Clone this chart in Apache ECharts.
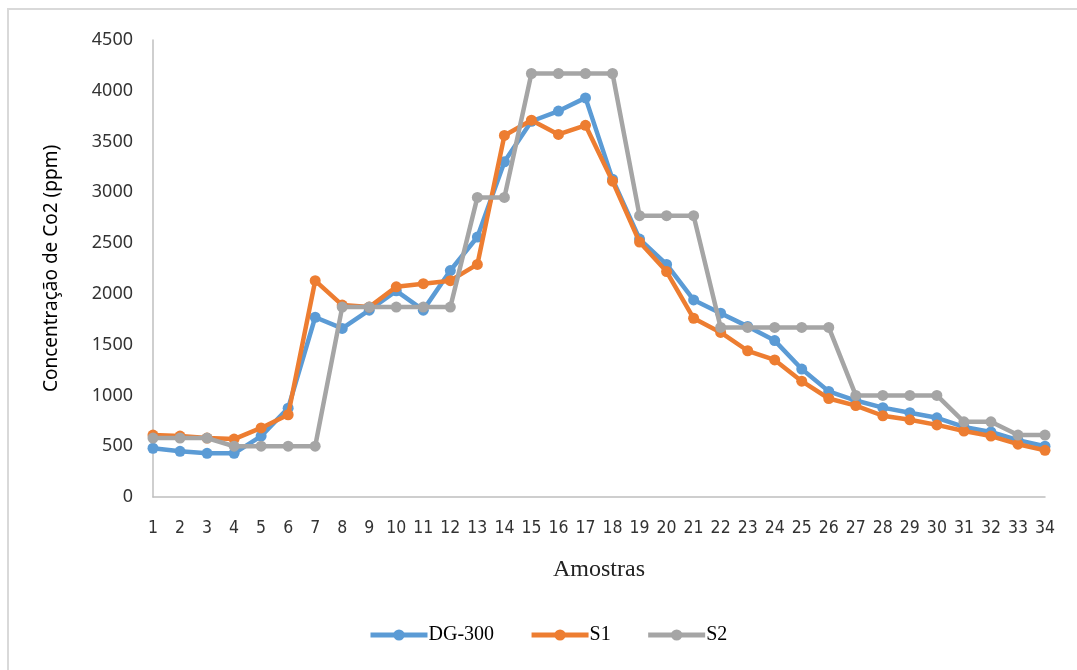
<!DOCTYPE html>
<html>
<head>
<meta charset="utf-8">
<script src="https://cdn.jsdelivr.net/npm/echarts@6/dist/echarts.min.js"></script>
<style>html,body{margin:0;padding:0;background:#fff}#c{width:1077px;height:670px}</style>
</head>
<body>
<div id="c"></div>
<script>
const categories = ['1','2','3','4','5','6','7','8','9','10','11','12','13','14','15','16','17','18','19','20','21','22','23','24','25','26','27','28','29','30','31','32','33','34'];
const dg300 = [480,450,430,430,600,875,1770,1660,1840,2030,1840,2230,2560,3300,3700,3800,3930,3130,2540,2290,1940,1810,1680,1540,1260,1040,950,880,830,780,690,640,560,500];
const s1 = [610,600,580,570,680,810,2130,1890,1870,2070,2100,2130,2290,3560,3710,3570,3660,3110,2510,2220,1760,1620,1440,1350,1140,970,900,800,760,710,650,600,520,460];
const s2 = [580,580,580,500,500,500,500,1870,1870,1870,1870,1870,2950,2950,4170,4170,4170,4170,2770,2770,2770,1670,1670,1670,1670,1670,1000,1000,1000,1000,740,740,610,610];
const yTicks = {min:0, max:4500, interval:500};

const chart = echarts.init(document.getElementById('c'), null, {renderer:'canvas'});
const mk = (name, data, color, z) => ({
  name, type:'line', data, z,
  symbol:'circle', symbolSize:11, showSymbol:true,
  lineStyle:{color, width:4.5}, itemStyle:{color},
  emphasis:{disabled:true}, animation:false
});
chart.setOption({
  animation:false,
  backgroundColor:'#fff',
  graphic:[{type:'polyline', shape:{points:[[8,670],[8,9],[1077,9]]}, style:{stroke:'#d9d9d9', lineWidth:2, fill:null}, silent:true}],
  grid:{left:153, right:32, top:40, bottom:173, containLabel:false},
  legend:{
    bottom:20, left:363, itemGap:35, itemWidth:57, itemHeight:14,
    lineStyle:{width:5},
    textStyle:{fontFamily:'Liberation Serif, serif', fontSize:20, color:'#000', padding:[0,0,0,-4]},
    data:['DG-300','S1','S2']
  },
  xAxis:{
    type:'category', data:categories, boundaryGap:false,
    name:'Amostras', nameLocation:'middle', nameGap:61,
    nameTextStyle:{fontFamily:'Liberation Serif, serif', fontSize:24, color:'#222'},
    axisLine:{show:true, lineStyle:{color:'#bfbfbf', width:1.5}},
    axisTick:{show:false},
    axisLabel:{interval:0, margin:22, fontFamily:'DejaVu Sans Condensed, Liberation Sans Narrow, Noto Sans', fontSize:17.5, color:'#333'}
  },
  yAxis:{
    type:'value', min:yTicks.min, max:yTicks.max, interval:yTicks.interval,
    name:'Concentração de Co2 (ppm)', nameLocation:'middle', nameGap:92,
    nameTextStyle:{fontFamily:'Noto Sans, sans-serif', fontSize:19, color:'#000'},
    axisLine:{show:true, lineStyle:{color:'#bfbfbf', width:1.5}},
    axisTick:{show:false},
    splitLine:{show:false},
    axisLabel:{margin:20, fontFamily:'Noto Sans, sans-serif', fontSize:18, color:'#333', formatter: v => String(v)}
  },
  series:[
    mk('DG-300', dg300, '#5b9bd5', 3),
    mk('S1', s1, '#ed7d31', 4),
    mk('S2', s2, '#a5a5a5', 5)
  ]
});
</script>
</body>
</html>
